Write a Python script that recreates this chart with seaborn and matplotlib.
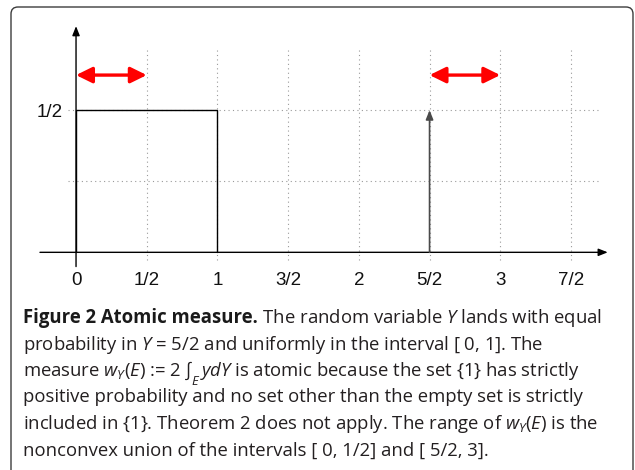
import matplotlib
matplotlib.use("Agg")
import matplotlib.pyplot as plt
import matplotlib.patches as mpatches
import matplotlib.transforms as mtransforms
import seaborn as sns
import pandas as pd

# data
density_x = [0, 0, 1, 1]          # uniform part of Y on [0, 1]
density_y = [0, 0.5, 0.5, 0]
atom_x = 2.5                      # atom at Y = 5/2
atom_mass = 0.5
range_lo = [0, 2.5]               # range of w_Y(E): [0,1/2] u [5/2,3]
range_hi = [0.5, 3]
x_ticks = [0, 0.5, 1, 1.5, 2, 2.5, 3, 3.5]
x_labels = ["0", "1/2", "1", "3/2", "2", "5/2", "3", "7/2"]
y_ticks = [0.5]
y_labels = ["1/2"]
y_grid = [0.25, 0.5]

caption_bold = "Figure 2 Atomic measure."
caption_lines = [
    " The random variable $Y$ lands with equal",
    "probability in $Y$ = 5/2 and uniformly in the interval [ 0, 1]. The",
    r"measure $w_Y(E)$ := 2 $\int_E\, ydY$ is atomic because the set {1} has strictly",
    "positive probability and no set other than the empty set is strictly",
    "included in {1}. Theorem 2 does not apply. The range of $w_Y(E)$ is the",
    "nonconvex union of the intervals [ 0, 1/2] and [ 5/2, 3].",
]

sns.set_style("white")
plt.rcParams["font.family"] = ["Liberation Sans", "DejaVu Sans"]
plt.rcParams["mathtext.fontset"] = "custom"
plt.rcParams["mathtext.rm"] = "Open Sans"
plt.rcParams["mathtext.it"] = "Open Sans:italic"
plt.rcParams["mathtext.bf"] = "Open Sans:bold"

W, H = 635, 470
fig = plt.figure(figsize=(W / 100, H / 100), dpi=100)

# axes placed so that x: 1 unit = 141.4 px, y: 1 unit = 284.5 px
ax = fig.add_axes([12.4 / W, 175 / H, 622.2 / W, 284.5 / H])
ax.set_xlim(-0.45, 3.95)
ax.set_ylim(-0.15, 0.85)

df = pd.DataFrame({"x": density_x, "y": density_y})
sns.lineplot(data=df, x="x", y="y", sort=False, estimator=None,
             color="black", lw=1.0, ax=ax)

# dotted grid
ax.vlines(x_ticks[1:], -0.027, 0.717, colors="#9a9a9a", lw=0.8,
          linestyles=(0, (1, 3)), zorder=0)
ax.hlines(y_grid, -0.057, 3.69, colors="#9a9a9a", lw=0.8,
          linestyles=(0, (1, 3)), zorder=0)

# coordinate axes with arrow heads
ax.annotate("", xy=(3.76, 0), xytext=(-0.255, 0),
            arrowprops=dict(arrowstyle="-|>,head_length=0.55,head_width=0.22",
                            mutation_scale=10, color="black", lw=1.0,
                            shrinkA=0, shrinkB=0))
ax.annotate("", xy=(0, 0.795), xytext=(0, -0.05),
            arrowprops=dict(arrowstyle="-|>,head_length=0.55,head_width=0.22",
                            mutation_scale=10, color="black", lw=1.0,
                            shrinkA=0, shrinkB=0))

# the atom
ax.annotate("", xy=(atom_x, atom_mass), xytext=(atom_x, 0),
            arrowprops=dict(arrowstyle="-|>,head_length=0.55,head_width=0.22",
                            mutation_scale=10, color="#4a4a4a", lw=1.2,
                            shrinkA=0, shrinkB=0))

# range of the measure
for lo, hi in zip(range_lo, range_hi):
    ax.annotate("", xy=(hi, 0.623), xytext=(lo, 0.623),
                arrowprops=dict(arrowstyle="<|-|>,head_length=0.65,head_width=0.32",
                                mutation_scale=15, color="#ff0000", lw=2.4,
                                shrinkA=0, shrinkB=0))

# ticks on the axes through the origin
for s in ax.spines.values():
    s.set_visible(False)
ax.spines["bottom"].set_position(("data", 0))
ax.spines["left"].set_position(("data", 0))
ax.set_xticks(x_ticks, x_labels)
ax.set_yticks(y_ticks, y_labels)
ax.tick_params(axis="x", length=0, pad=14, labelsize=13.5, labelcolor="#111111")
ax.tick_params(axis="y", length=0, pad=9.4, labelsize=13.5, labelcolor="#111111")
ax.set_xlabel("")
ax.set_ylabel("")

# rounded frame
frame = mpatches.FancyBboxPatch((11, -30), 622, 463 + 30,
                                boxstyle="round,pad=0,rounding_size=7",
                                transform=mtransforms.IdentityTransform(),
                                fill=False, ec="#3c3c3c", lw=1.0)
fig.add_artist(frame)

# caption
cap_font = ["Open Sans", "DejaVu Sans"]
baselines = [323.3, 349.7, 376.1, 402.5, 428.9, 455.3]
x0 = 23
size = 12.5
renderer = fig.canvas.get_renderer()
tb = fig.text(x0 / W, 1 - baselines[0] / H, caption_bold, family=cap_font,
              weight="bold", size=size, va="baseline", color="#1a1a1a")
t_lines = []
for line, yb in zip(caption_lines, baselines):
    t_lines.append(fig.text(x0 / W, 1 - yb / H, line, family=cap_font,
                            size=size, va="baseline", color="#231f20"))

# scale font so the first caption line spans the measured width
w = tb.get_window_extent(renderer).width + t_lines[0].get_window_extent(renderer).width
size = size * 580 / w
tb.set_size(size)
for t in t_lines:
    t.set_size(size)
x1 = tb.get_window_extent(renderer).x1
t_lines[0].set_x(x1 / W)

fig.savefig("out.png", dpi=100)
